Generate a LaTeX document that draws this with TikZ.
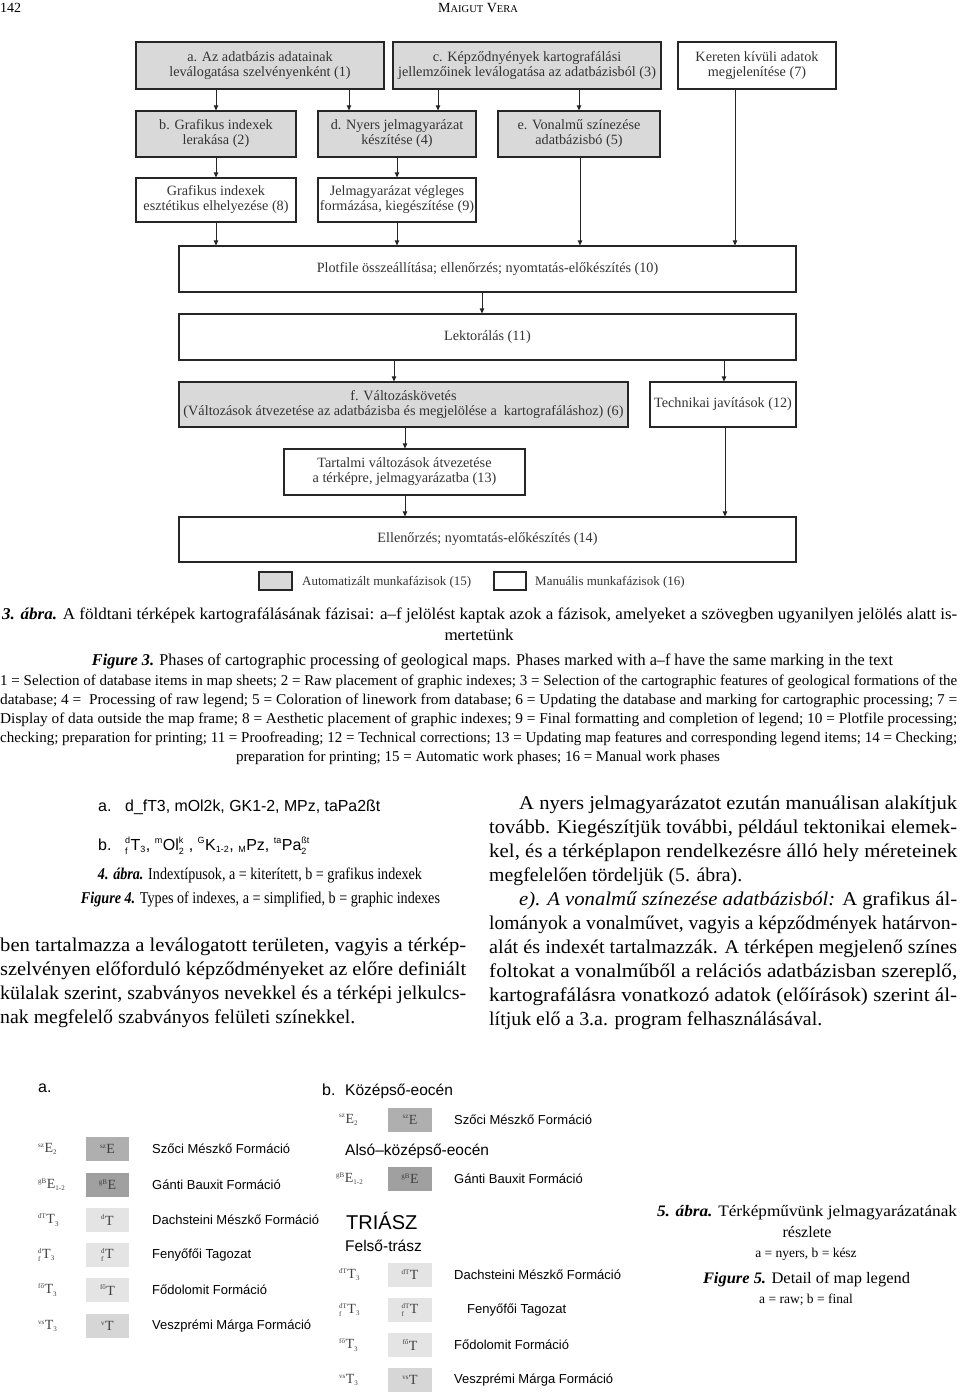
\documentclass[tikz,border=0pt]{standalone}
\usepackage{fontspec}
\setmainfont{Liberation Serif}
\setsansfont{Liberation Sans}
\usepackage{graphicx}
\usetikzlibrary{arrows.meta}

\newcommand{\fitline}[2]{\resizebox{#1}{\height}{#2}}
\newcommand{\dfont}{\fontsize{14.2}{15}\selectfont}
\newcommand{\lgfont}{\fontsize{13}{15}\selectfont}
\newcommand{\capfont}{\fontsize{16.5}{19}\selectfont}
\newcommand{\smfont}{\fontsize{15}{17}\selectfont}
\newcommand{\bodyfont}{\fontsize{19.5}{24}\selectfont}
\newcommand{\legfont}{\sffamily\fontsize{13}{15}\selectfont}
\newcommand{\ssup}[2][7]{\ensuremath{^{\hbox{\fontsize{#1}{#1}\selectfont #2}}}}
\newcommand{\ssub}[2][7]{\ensuremath{_{\hbox{\fontsize{#1}{#1}\selectfont #2}}}}
\newcommand{\ssb}[3][7]{\ensuremath{^{\hbox{\fontsize{#1}{#1}\selectfont #2}}_{\hbox{\fontsize{#1}{#1}\selectfont #3}}}}

\definecolor{dfill}{HTML}{D9D9D9}
\definecolor{gA}{HTML}{AFAFAF}
\definecolor{gB}{HTML}{A0A0A0}
\definecolor{gC}{HTML}{E4E4E4}
\definecolor{gD}{HTML}{D6D6D6}

\tikzset{
  box/.style={draw=black!85, line width=1.2pt, inner sep=0pt, align=center, font=\dfont, text=black!80},
  autobox/.style={box, fill=dfill},
  manbox/.style={box, fill=white},
  arr/.style={draw=black!85, line width=0.8pt, -{Triangle[length=5pt,width=4.5pt]}},
  txt/.style={inner sep=0pt, anchor=base west},
  ctxt/.style={inner sep=0pt, anchor=base},
  sw/.style={minimum width=43pt, minimum height=24pt, inner sep=0pt, font=\fontsize{14}{14}\selectfont, text=black!75},
  idx/.style={inner sep=0pt, anchor=west, font=\fontsize{14}{14}\selectfont, text=black!75},
  lab/.style={inner sep=0pt, anchor=west, font=\legfont}
}

\begin{document}
\begin{tikzpicture}[x=1pt,y=-1pt]
\fill[white] (0,0) rectangle (960,1396);
\useasboundingbox (0,0) rectangle (960,1396);

% header
\node[txt, font=\fontsize{14}{14}\selectfont] (pg) at (0,13) {142};
\node[ctxt, font=\fontsize{14}{14}\selectfont] (au) at (478,13) {M{\fontsize{10.5}{10}\selectfont AIGUT} V{\fontsize{10.5}{10}\selectfont ERA}};

% ---------- Figure 3 flowchart ----------
\node[autobox, minimum width=248, minimum height=47] (a) at (260,65.5) {a. Az adatbázis adatainak\\leválogatása szelvényenként (1)};
\node[autobox, minimum width=268, minimum height=47] (c) at (527,65.5) {c. Képződnyények kartografálási\\jellemzőinek leválogatása az adatbázisból (3)};
\node[manbox, minimum width=158, minimum height=47] (s7) at (757,65.5) {Kereten kívüli adatok\\megjelenítése (7)};
\node[autobox, minimum width=160, minimum height=46] (b) at (216,134) {b. Grafikus indexek\\lerakása (2)};
\node[autobox, minimum width=158, minimum height=46] (d) at (397,134) {d. Nyers jelmagyarázat\\készítése (4)};
\node[autobox, minimum width=162, minimum height=46] (e) at (579,134) {e. Vonalmű színezése\\adatbázisbó (5)};
\node[manbox, minimum width=160, minimum height=44] (s8) at (216,200) {Grafikus indexek\\esztétikus elhelyezése (8)};
\node[manbox, minimum width=158, minimum height=44] (s9) at (397,200) {Jelmagyarázat végleges\\formázása, kiegészítése (9)};
\node[manbox, minimum width=617, minimum height=46] (s10) at (487.5,269) {Plotfile összeállítása; ellenőrzés; nyomtatás-előkészítés (10)};
\node[manbox, minimum width=617, minimum height=46] (s11) at (487.5,337) {Lektorálás (11)};
\node[autobox, minimum width=449, minimum height=45] (f) at (403.5,404.5) {f. Változáskövetés\\\fitline{440pt}{(Változások átvezetése az adatbázisba és megjelölése a\ \ kartografáláshoz) (6)}};
\node[manbox, minimum width=146, minimum height=45] (s12) at (723,404.5) {Technikai javítások (12)};
\node[manbox, minimum width=241, minimum height=46] (s13) at (404.5,472) {Tartalmi változások átvezetése\\a térképre, jelmagyarázatba (13)};
\node[manbox, minimum width=617, minimum height=45] (s14) at (487.5,539.5) {Ellenőrzés; nyomtatás-előkészítés (14)};

% legend
\node[autobox, minimum width=33, minimum height=18] (lg1) at (275.5,581) {};
\node[inner sep=0pt, anchor=west, font=\lgfont, text=black!80] (lt1) at (302,582) {Automatizált munkafázisok (15)};
\node[manbox, minimum width=32, minimum height=18] (lg2) at (510,581) {};
\node[inner sep=0pt, anchor=west, font=\lgfont, text=black!80] (lt2) at (535,582) {Manuális munkafázisok (16)};

% connector x positions
\foreach \xx in {216,349,438,579,397,580,735,482,394,724,405,725}
  {\coordinate (x\xx) at (\xx,0);}

\draw[arr] (a.south -| x216) -- (b.north -| x216);
\draw[arr] (a.south -| x349) -- (d.north -| x349);
\draw[arr] (c.south -| x438) -- (d.north -| x438);
\draw[arr] (c.south -| x579) -- (e.north -| x579);
\draw[arr] (b.south -| x216) -- (s8.north -| x216);
\draw[arr] (d.south -| x397) -- (s9.north -| x397);
\draw[arr] (s8.south -| x216) -- (s10.north -| x216);
\draw[arr] (s9.south -| x397) -- (s10.north -| x397);
\draw[arr] (e.south -| x580) -- (s10.north -| x580);
\draw[arr] (s7.south -| x735) -- (s10.north -| x735);
\draw[arr] (s10.south -| x482) -- (s11.north -| x482);
\draw[arr] (s11.south -| x394) -- (f.north -| x394);
\draw[arr] (s11.south -| x724) -- (s12.north -| x724);
\draw[arr] (f.south -| x405) -- (s13.north -| x405);
\draw[arr] (s13.south -| x405) -- (s14.north -| x405);
\draw[arr] (s12.south -| x725) -- (s14.north -| x725);

% ---------- Figure 3 caption ----------
\node[txt, font=\capfont] (cap1) at (2,619) {\fitline{955pt}{\textbf{\itshape 3. ábra.} A földtani térképek kartografálásának fázisai: a–f jelölést kaptak azok a fázisok, amelyeket a szövegben ugyanilyen jelölés alatt is-}};
\node[ctxt, font=\capfont] (cap2) at (479,640) {\fitline{69pt}{mertetünk}};
\node[ctxt, font=\capfont] (cap3) at (492.5,665) {\fitline{801pt}{\textbf{\itshape Figure 3.} Phases of cartographic processing of geological maps. Phases marked with a–f have the same marking in the text}};
\node[txt, font=\smfont] (sm1) at (0,685) {\fitline{957pt}{1 = Selection of database items in map sheets; 2 = Raw placement of graphic indexes; 3 = Selection of the cartographic features of geological formations of the}};
\node[txt, font=\smfont] (sm2) at (0,704) {\fitline{957pt}{database; 4 = \ Processing of raw legend; 5 = Coloration of linework from database; 6 = Updating the database and marking for cartographic processing; 7 =}};
\node[txt, font=\smfont] (sm3) at (0,723) {\fitline{957pt}{Display of data outside the map frame; 8 = Aesthetic placement of graphic indexes; 9 = Final formatting and completion of legend; 10 = Plotfile processing;}};
\node[txt, font=\smfont] (sm4) at (0,742) {\fitline{957pt}{checking; preparation for printing; 11 = Proofreading; 12 = Technical corrections; 13 = Updating map features and corresponding legend items; 14 = Checking;}};
\node[ctxt, font=\smfont] (sm5) at (478,761) {\fitline{484pt}{preparation for printing; 15 = Automatic work phases; 16 = Manual work phases}};

% ---------- Figure 4 ----------
\node[txt, font=\sffamily\fontsize{16}{16}\selectfont] (f4a) at (98,811) {a.};
\node[txt, font=\sffamily\fontsize{16}{16}\selectfont] (f4at) at (125,811) {\fitline{255pt}{d\_fT3, mOl2k, GK1-2, MPz, taPa2ßt}};
\node[txt, font=\sffamily\fontsize{16}{16}\selectfont] (f4b) at (98,850) {b.};
\node[txt, font=\sffamily\fontsize{16}{16}\selectfont] (f4bt) at (125,850) {\ssb[9]{d}{f}T\ssub[9]{3}, \ssup[9]{m}Ol\ssb[9]{k}{2} , \ssup[9]{G}K\ssub[9]{1-2}, \ssub[9]{M}Pz, \ssup[9]{ta}Pa\ssb[9]{ßt}{2}};
\node[ctxt, font=\capfont] (f4c1) at (260,879) {\fitline{324pt}{\textbf{\itshape 4. ábra.} Indextípusok, a = kiterített, b = grafikus indexek}};
\node[ctxt, font=\capfont] (f4c2) at (260.5,903) {\fitline{359pt}{\textbf{\itshape Figure 4.} Types of indexes, a = simplified, b = graphic indexes}};

% ---------- body text ----------
\node[txt, font=\bodyfont] (l1) at (0,951) {\fitline{466pt}{ben tartalmazza a leválogatott területen, vagyis a térkép-}};
\node[txt, font=\bodyfont] (l2) at (0,975) {\fitline{466pt}{szelvényen előforduló képződményeket az előre definiált}};
\node[txt, font=\bodyfont] (l3) at (0,999) {\fitline{466pt}{külalak szerint, szabványos nevekkel és a térképi jelkulcs-}};
\node[txt, font=\bodyfont] (l4) at (0,1023) {\fitline{355pt}{nak megfelelő szabványos felületi színekkel.}};

\node[txt, font=\bodyfont] (r1) at (519,809) {\fitline{438pt}{A nyers jelmagyarázatot ezután manuálisan alakítjuk}};
\node[txt, font=\bodyfont] (r2) at (489,833) {\fitline{468pt}{tovább. Kiegészítjük további, például tektonikai elemek-}};
\node[txt, font=\bodyfont] (r3) at (489,857) {\fitline{468pt}{kel, és a térképlapon rendelkezésre álló hely méreteinek}};
\node[txt, font=\bodyfont] (r4) at (489,881) {\fitline{253pt}{megfelelően tördeljük (5. ábra).}};
\node[txt, font=\bodyfont] (r5) at (519,905) {\fitline{438pt}{\textit{e). A vonalmű színezése adatbázisból:} A grafikus ál-}};
\node[txt, font=\bodyfont] (r6) at (489,929) {\fitline{468pt}{lományok a vonalművet, vagyis a képződmények határvon-}};
\node[txt, font=\bodyfont] (r7) at (489,953) {\fitline{468pt}{alát és indexét tartalmazzák. A térképen megjelenő színes}};
\node[txt, font=\bodyfont] (r8) at (489,977) {\fitline{468pt}{foltokat a vonalműből a relációs adatbázisban szereplő,}};
\node[txt, font=\bodyfont] (r9) at (489,1001) {\fitline{468pt}{kartografálásra vonatkozó adatok (előírások) szerint ál-}};
\node[txt, font=\bodyfont] (r10) at (489,1025) {\fitline{333pt}{lítjuk elő a 3.a. program felhasználásával.}};

% ---------- Figure 5a ----------
\node[txt, font=\sffamily\fontsize{16}{16}\selectfont] (f5a) at (38,1092) {a.};
\node[idx] (ia1) at (38,1149) {\ssup{sz}E\ssub{2}};
\node[sw, fill=gA] (ba1) at (107.5,1149) {\ssup{sz}E};
\node[lab] (ta1) at (152,1149) {Szőci Mészkő Formáció};
\node[idx] (ia2) at (38,1184.5) {\ssup{gB}E\ssub{1-2}};
\node[sw, fill=gB] (ba2) at (107.5,1184.5) {\ssup{gB}E};
\node[lab] (ta2) at (152,1184.5) {Gánti Bauxit Formáció};
\node[idx] (ia3) at (38,1220) {\ssup{dT}T\ssub{3}};
\node[sw, fill=gC] (ba3) at (107.5,1220) {\ssup{d}T};
\node[lab] (ta3) at (152,1220) {Dachsteini Mészkő Formáció};
\node[idx] (ia4) at (38,1255) {\ssb{d}{f}T\ssub{3}};
\node[sw, fill=gC] (ba4) at (107.5,1255) {\ssb{d}{f}T};
\node[lab] (ta4) at (152,1255) {Fenyőfői Tagozat};
\node[idx] (ia5) at (38,1290) {\ssup{fő}T\ssub{3}};
\node[sw, fill=gC] (ba5) at (107.5,1290) {\ssup{fő}T};
\node[lab] (ta5) at (152,1290) {Fődolomit Formáció};
\node[idx] (ia6) at (38,1326) {\ssup{vs}T\ssub{3}};
\node[sw, fill=gD] (ba6) at (107.5,1326) {\ssup{v}T};
\node[lab] (ta6) at (152,1326) {Veszprémi Márga Formáció};

% ---------- Figure 5b ----------
\node[txt, font=\sffamily\fontsize{16}{16}\selectfont] (f5b) at (322,1095) {b.};
\node[txt, font=\sffamily\fontsize{15.5}{16}\selectfont] (h1) at (345,1095) {Középső-eocén};
\node[idx] (ib1) at (339,1119.5) {\ssup{sz}E\ssub{2}};
\node[sw, fill=gA, minimum width=44] (bb1) at (410,1119.5) {\ssup{sz}E};
\node[lab] (tb1) at (454,1119.5) {Szőci Mészkő Formáció};
\node[txt, font=\sffamily\fontsize{15.5}{16}\selectfont] (h2) at (345,1155) {Alsó–középső-eocén};
\node[idx] (ib2) at (336,1178.5) {\ssup{gB}E\ssub{1-2}};
\node[sw, fill=gB, minimum width=44] (bb2) at (410,1178.5) {\ssup{gB}E};
\node[lab] (tb2) at (454,1178.5) {Gánti Bauxit Formáció};
\node[txt, font=\sffamily\fontsize{20}{20}\selectfont] (h3) at (346,1229) {TRIÁSZ};
\node[txt, font=\sffamily\fontsize{15.5}{16}\selectfont] (h4) at (345,1251) {Felső-trász};
\node[idx] (ib3) at (339,1274.5) {\ssup{dT}T\ssub{3}};
\node[sw, fill=gC, minimum width=44] (bb3) at (410,1274.5) {\ssup{dT}T};
\node[lab] (tb3) at (454,1274.5) {Dachsteini Mészkő Formáció};
\node[idx] (ib4) at (339,1310) {\ssb{dT}{f}T\ssub{3}};
\node[sw, fill=gC, minimum width=44] (bb4) at (410,1310) {\ssb{dT}{f}T};
\node[lab] (tb4) at (467,1310) {Fenyőfői Tagozat};
\node[idx] (ib5) at (339,1345) {\ssup{fő}T\ssub{3}};
\node[sw, fill=gC, minimum width=44] (bb5) at (410,1345) {\ssup{fő}T};
\node[lab] (tb5) at (454,1345) {Fődolomit Formáció};
\node[idx] (ib6) at (339,1380) {\ssup{vs}T\ssub{3}};
\node[sw, fill=gD, minimum width=44] (bb6) at (410,1380) {\ssup{vs}T};
\node[lab] (tb6) at (454,1380) {Veszprémi Márga Formáció};

% ---------- Figure 5 caption ----------
\node[ctxt, font=\fontsize{16}{18}\selectfont] (c51) at (807,1216) {\fitline{300pt}{\textbf{\itshape 5. ábra.} Térképművünk jelmagyarázatának}};
\node[ctxt, font=\fontsize{16}{18}\selectfont] (c52) at (807,1237) {részlete};
\node[ctxt, font=\fontsize{13.5}{16}\selectfont] (c53) at (806,1257) {a = nyers, b = kész};
\node[ctxt, font=\fontsize{16}{18}\selectfont] (c54) at (806.5,1283) {\fitline{207pt}{\textbf{\itshape Figure 5.} Detail of map legend}};
\node[ctxt, font=\fontsize{13.5}{16}\selectfont] (c55) at (806,1303) {a = raw; b = final};
\end{tikzpicture}
\end{document}
